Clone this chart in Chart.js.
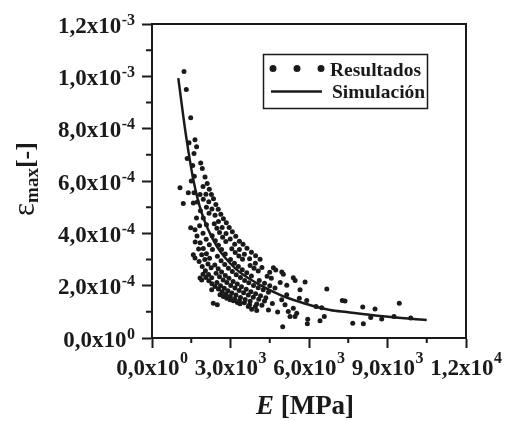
<!DOCTYPE html>
<html><head><meta charset="utf-8">
<script src="https://cdn.jsdelivr.net/npm/chart.js@4"></script>
<style>html,body{margin:0;padding:0;background:#fff;}canvas{display:block;}</style>
</head><body>
<canvas id="c" width="508" height="421"></canvas>
<script>
// Measured points "Resultados": E [MPa]
const resE = [
 1223,1311,1479,1643,1704,1861,1922,2026,2110,2190,2270,2350,2440,2530,2630,2730,2840,2950,3070,3200,3340,3480,3630,3800,3960,4130,4640,4730,4960,5020,5400,5470,5850,6680,9450,
 1950,2060,2170,2290,2410,2540,2680,2830,2990,3160,3340,3530,3730,3950,4200,4500,
 1414,1556,1605,1617,1835,1960,2080,2180,2380,2480,2580,2700,2820,3050,3180,3320,3460,3750,3900,4060,4400,4560,4900,5150,5657,7273,7376,
 1345,1500,1605,1730,1850,1960,2080,2300,2420,2540,2660,2800,3000,3150,3300,3450,3620,3800,4100,4300,4500,4700,5148,5630,5913,8053,8523,
 1388,1578,1700,1820,1950,2070,2190,2310,2500,2640,2780,2920,3070,3220,3380,3540,3700,3880,4060,4250,4450,4957,6268,6486,9249,9888,
 1643,1720,1840,1960,2080,2200,2400,2530,2660,2800,2940,3100,3260,3420,3600,3780,3960,4150,4350,5083,5400,8359,8779,
 1070,1196,1479,1650,1780,1900,2020,2140,2260,2450,2580,2720,2860,3010,3170,3330,3500,3680,3870,4080,4300,4600,
 1578,1643,1800,1920,2040,2160,2280,2480,2620,2760,2900,3050,3210,3380,3560,3750,4002,4200,5209,5530,6585,
 1950,2060,2170,2290,2410,2540,2680,2830,2990,3160,3340,3530,3730,3950,4450,4800,
 1835,1900,2282,2599,2727,2855,2982,3110,3263,3363,3680,3811,4002,5274,5466,5951,6421,7671,8076,
 2343,2496,4995,5936
];
// Measured points "Resultados": strain
const resStrain = [
 10.18e-4,9.50e-4,8.42e-4,7.58e-4,7.31e-4,6.69e-4,6.48e-4,6.15e-4,5.90e-4,5.68e-4,5.48e-4,5.32e-4,5.10e-4,4.92e-4,4.73e-4,4.56e-4,4.40e-4,4.22e-4,4.06e-4,3.89e-4,3.70e-4,3.58e-4,3.43e-4,3.28e-4,3.14e-4,3.01e-4,2.68e-4,2.60e-4,2.52e-4,2.44e-4,2.30e-4,2.20e-4,2.14e-4,1.87e-4,1.33e-4,
 5.79e-4,5.49e-4,5.21e-4,4.93e-4,4.69e-4,4.45e-4,4.22e-4,3.99e-4,3.78e-4,3.58e-4,3.38e-4,3.20e-4,3.03e-4,2.86e-4,2.69e-4,2.51e-4,
 7.46e-4,6.59e-4,7.05e-4,6.18e-4,5.48e-4,5.30e-4,5.00e-4,4.77e-4,4.37e-4,4.19e-4,4.03e-4,3.85e-4,3.69e-4,3.41e-4,3.27e-4,3.13e-4,3.01e-4,2.77e-4,2.67e-4,2.56e-4,2.36e-4,2.28e-4,2.12e-4,2.02e-4,1.84e-4,1.43e-4,1.41e-4,
 6.86e-4,6.00e-4,5.55e-4,5.20e-4,4.86e-4,4.59e-4,4.33e-4,3.91e-4,3.72e-4,3.54e-4,3.38e-4,3.21e-4,3.00e-4,2.86e-4,2.73e-4,2.61e-4,2.49e-4,2.37e-4,2.20e-4,2.09e-4,2.00e-4,1.91e-4,1.65e-4,1.52e-4,1.43e-4,1.18e-4,1.11e-4,
 5.55e-4,5.16e-4,4.59e-4,4.29e-4,4.00e-4,3.77e-4,3.56e-4,3.38e-4,3.12e-4,2.95e-4,2.81e-4,2.67e-4,2.54e-4,2.42e-4,2.31e-4,2.20e-4,2.11e-4,2.01e-4,1.92e-4,1.84e-4,1.75e-4,1.46e-4,1.20e-4,1.16e-4,0.82e-4,0.76e-4,
 4.14e-4,3.90e-4,3.64e-4,3.42e-4,3.22e-4,3.05e-4,2.79e-4,2.65e-4,2.52e-4,2.39e-4,2.28e-4,2.16e-4,2.06e-4,1.96e-4,1.86e-4,1.77e-4,1.69e-4,1.61e-4,1.54e-4,1.27e-4,1.14e-4,0.78e-4,0.73e-4,
 5.74e-4,5.14e-4,4.21e-4,3.67e-4,3.40e-4,3.18e-4,3.00e-4,2.83e-4,2.68e-4,2.47e-4,2.34e-4,2.22e-4,2.12e-4,2.01e-4,1.91e-4,1.82e-4,1.73e-4,1.64e-4,1.56e-4,1.48e-4,1.41e-4,1.32e-4,
 3.18e-4,3.06e-4,2.92e-4,2.73e-4,2.57e-4,2.43e-4,2.30e-4,2.12e-4,2.00e-4,1.90e-4,1.81e-4,1.72e-4,1.64e-4,1.55e-4,1.47e-4,1.40e-4,1.30e-4,1.25e-4,1.01e-4,0.95e-4,0.82e-4,
 2.44e-4,2.31e-4,2.19e-4,2.07e-4,1.97e-4,1.87e-4,1.77e-4,1.68e-4,1.59e-4,1.50e-4,1.42e-4,1.35e-4,1.27e-4,1.20e-4,1.07e-4,0.99e-4,
 2.29e-4,2.22e-4,1.84e-4,1.65e-4,1.59e-4,1.52e-4,1.46e-4,1.42e-4,1.36e-4,1.31e-4,1.20e-4,1.10e-4,1.05e-4,0.82e-4,0.82e-4,0.72e-4,0.66e-4,0.56e-4,0.54e-4,
 1.33e-4,1.27e-4,0.43e-4,0.54e-4
];
// Simulation curve
const simE = [1005,1290,1578,1900,2473,3237,4001,4892,5771,6803,7441,8717,10500];
const simStrain = [9.93e-4,7.80e-4,6.06e-4,4.78e-4,3.51e-4,2.61e-4,2.10e-4,1.65e-4,1.34e-4,1.07e-4,0.99e-4,0.84e-4,0.69e-4];

const seriesLabels = ["Resultados","Simulación"];
const xTickValues = [0,3000,6000,9000,12000];
const xTickLabels = [["0,0x10","0"],["3,0x10","3"],["6,0x10","3"],["9,0x10","3"],["1,2x10","4"]];
const yTickValues = [0,2e-4,4e-4,6e-4,8e-4,10e-4,12e-4];
const yTickLabels = [["0,0x10","0"],["2,0x10","-4"],["4,0x10","-4"],["6,0x10","-4"],["8,0x10","-4"],["1,0x10","-3"],["1,2x10","-3"]];
const xMinorValues = [1500,4500,7500,10500];
const yMinorValues = [1e-4,3e-4,5e-4,7e-4,9e-4,11e-4];

const INK = '#1a1a1a';
const SERIF = '"Liberation Serif","Times New Roman",serif';

const decor = {
  id: 'decor',
  afterDraw(chart) {
    const ctx = chart.ctx, a = chart.chartArea, xs = chart.scales.x, ys = chart.scales.y;
    ctx.save();
    ctx.strokeStyle = INK; ctx.fillStyle = INK;
    ctx.lineWidth = 2;
    ctx.strokeRect(a.left, a.top, a.right - a.left, a.bottom - a.top);
    ctx.beginPath();
    xMinorValues.forEach(v => { const p = xs.getPixelForValue(v); ctx.moveTo(p, a.bottom); ctx.lineTo(p, a.bottom + 5); });
    yMinorValues.forEach(v => { const p = ys.getPixelForValue(v); ctx.moveTo(a.left, p); ctx.lineTo(a.left - 6, p); });
    ctx.stroke();
    const mainF = 'bold 23px ' + SERIF, supF = 'bold 16px ' + SERIF;
    function lab(base, sup, x, yb, ys2, align) {
      ctx.font = mainF; const wb = ctx.measureText(base).width;
      ctx.font = supF; const ws = ctx.measureText(sup).width;
      const x0 = align === 'right' ? x - wb - ws - 0.5 : x - (wb + ws + 0.5) / 2;
      ctx.textAlign = 'left'; ctx.textBaseline = 'alphabetic';
      ctx.font = mainF; ctx.fillText(base, x0, yb);
      ctx.font = supF; ctx.fillText(sup, x0 + wb + 0.5, ys2);
    }
    yTickValues.forEach((v, i) => {
      const p = ys.getPixelForValue(v);
      lab(yTickLabels[i][0], yTickLabels[i][1], 135, p + 8.5, p + 0.5, 'right');
    });
    xTickValues.forEach((v, i) => {
      const p = xs.getPixelForValue(v);
      lab(xTickLabels[i][0], xTickLabels[i][1], p, 375, 363, 'center');
    });
    ctx.font = 'italic bold 27px ' + SERIF; const wE = ctx.measureText('E').width;
    ctx.font = 'bold 27px ' + SERIF; const wR = ctx.measureText(' [MPa]').width;
    const cx = (a.left + a.right) / 2 - 4;
    let x0 = cx - (wE + wR) / 2;
    ctx.font = 'italic bold 27px ' + SERIF; ctx.fillText('E', x0, 414);
    ctx.font = 'bold 27px ' + SERIF; ctx.fillText(' [MPa]', x0 + wE, 414);
    ctx.font = '31px ' + SERIF; const w1 = ctx.measureText('ε').width;
    ctx.font = 'bold 19px ' + SERIF; const w2 = ctx.measureText('max').width;
    ctx.font = 'bold 26px ' + SERIF; const w3 = ctx.measureText('[-]').width;
    const cy = (a.top + a.bottom) / 2 - 2;
    ctx.save();
    ctx.translate(34, cy + (w1 + w2 + w3) / 2);
    ctx.rotate(-Math.PI / 2);
    ctx.font = '31px ' + SERIF; ctx.fillText('ε', 0, 0);
    ctx.font = 'bold 19px ' + SERIF; ctx.fillText('max', w1, 4);
    ctx.font = 'bold 26px ' + SERIF; ctx.fillText('[-]', w1 + w2, 0);
    ctx.restore();
    ctx.fillStyle = '#fff';
    ctx.fillRect(263.5, 54.5, 164, 54);
    ctx.fillStyle = INK;
    ctx.lineWidth = 1.5;
    ctx.strokeRect(263.5, 54.5, 164, 54);
    [273, 297, 321].forEach(px => { ctx.beginPath(); ctx.arc(px, 68.5, 3.5, 0, Math.PI * 2); ctx.fill(); });
    ctx.lineWidth = 2.5;
    ctx.beginPath(); ctx.moveTo(271, 91.5); ctx.lineTo(322, 91.5); ctx.stroke();
    ctx.font = 'bold 19.5px ' + SERIF;
    ctx.fillText(chart.data.datasets[0].label, 330, 76);
    ctx.fillText(chart.data.datasets[1].label, 332, 98);
    ctx.restore();
  }
};

new Chart(document.getElementById('c'), {
  data: {
    datasets: [
      { type: 'scatter', label: seriesLabels[0],
        data: resE.map((x, i) => ({ x: x, y: resStrain[i] })),
        pointRadius: 2.5, pointHoverRadius: 2.5, pointBackgroundColor: INK, pointBorderWidth: 0, showLine: false, order: 2 },
      { type: 'line', label: seriesLabels[1],
        data: simE.map((x, i) => ({ x: x, y: simStrain[i] })),
        borderColor: INK, borderWidth: 2.5, pointRadius: 0, fill: false, cubicInterpolationMode: 'monotone', order: 1 }
    ]
  },
  options: {
    responsive: false, animation: false, devicePixelRatio: 1,
    layout: { padding: { left: 0, top: 24, right: 42, bottom: 0 } },
    plugins: { legend: { display: false }, tooltip: { enabled: false } },
    scales: {
      x: { type: 'linear', position: 'bottom', min: 0, max: 12000,
        ticks: { stepSize: 3000, display: false },
        grid: { drawOnChartArea: false, drawTicks: true, tickLength: 10, tickWidth: 2, tickColor: INK },
        border: { display: true, color: INK, width: 2 },
        afterFit(s) { s.height = 83; } },
      y: { type: 'linear', position: 'left', min: 0, max: 12e-4,
        ticks: { stepSize: 2e-4, display: false },
        grid: { drawOnChartArea: false, drawTicks: true, tickLength: 10, tickWidth: 2, tickColor: INK },
        border: { display: true, color: INK, width: 2 },
        afterFit(s) { s.width = 152; } }
    }
  },
  plugins: [decor]
});
</script>
</body></html>
